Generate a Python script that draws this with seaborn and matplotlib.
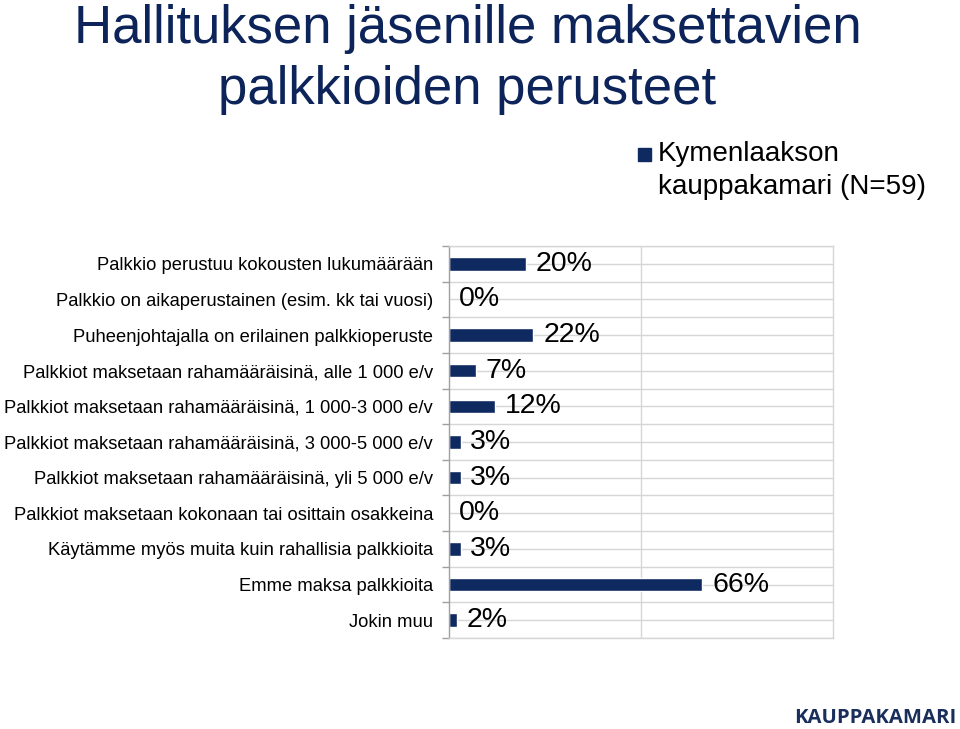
import matplotlib
matplotlib.use("Agg")
import matplotlib.pyplot as plt
import seaborn as sns
import pandas as pd
from matplotlib.patches import Patch, Rectangle
from matplotlib.legend_handler import HandlerPatch

categories = [
    "Palkkio perustuu kokousten lukumäärään",
    "Palkkio on aikaperustainen (esim. kk tai vuosi)",
    "Puheenjohtajalla on erilainen palkkioperuste",
    "Palkkiot maksetaan rahamääräisinä, alle 1 000 e/v",
    "Palkkiot maksetaan rahamääräisinä, 1 000-3 000 e/v",
    "Palkkiot maksetaan rahamääräisinä, 3 000-5 000 e/v",
    "Palkkiot maksetaan rahamääräisinä, yli 5 000 e/v",
    "Palkkiot maksetaan kokonaan tai osittain osakkeina",
    "Käytämme myös muita kuin rahallisia palkkioita",
    "Emme maksa palkkioita",
    "Jokin muu",
]
values = [0.20, 0.00, 0.22, 0.07, 0.12, 0.03, 0.03, 0.00, 0.03, 0.66, 0.02]
labels = ["20%", "0%", "22%", "7%", "12%", "3%", "3%", "0%", "3%", "66%", "2%"]
series_name = "Kymenlaakson\nkauppakamari (N=59)"
title = "Hallituksen jäsenille maksettavien\npalkkioiden perusteet"

NAVY = "#0F2A61"
GRID = "#D6D6D6"

sns.set_theme(style="white")
plt.rcParams["font.family"] = ["Liberation Sans", "DejaVu Sans"]

df = pd.DataFrame({"category": categories, "value": values})

fig = plt.figure(figsize=(9.6, 7.29), dpi=100)
ax = fig.add_axes([0.4677, 0.1248, 0.4000, 0.5378])

sns.barplot(data=df, y="category", x="value", orient="h", color=NAVY,
            width=0.38, saturation=1, ax=ax)

ax.set_xlim(0, 1)
ax.set_xlabel("")
ax.set_ylabel("")
ax.set_xticks([0.5])
ax.set_xticklabels([])
ax.tick_params(axis="x", length=0)
ax.xaxis.grid(True, color=GRID, linewidth=1)

n = len(categories)
ax.set_yticks(range(n))
ax.set_yticklabels(categories, fontsize=13.2, color="black")
ax.set_yticks([i - 0.5 for i in range(n + 1)], minor=True)
ax.tick_params(axis="y", which="major", length=0, pad=11.5)
ax.tick_params(axis="y", which="minor", length=5, color="#A0A0A0", width=1, left=True)
ax.yaxis.grid(True, which="both", color=GRID, linewidth=1)
ax.set_axisbelow(True)

for side in ["top", "right", "bottom"]:
    ax.spines[side].set_color(GRID)
    ax.spines[side].set_linewidth(1)
ax.spines["left"].set_color("#A0A0A0")
ax.spines["left"].set_linewidth(1)

ax.bar_label(ax.containers[0], labels=labels, padding=7, fontsize=20.5,
             color="black")


def square_first_line(legend, orig_handle, xdescent, ydescent, width, height, fontsize):
    side = 9.4
    return Rectangle((-xdescent + width - side, -ydescent + (height - side) / 2 + 11.9),
                     side, side)


handle = Patch(facecolor=NAVY, edgecolor=NAVY)
leg = fig.legend([handle], [series_name], loc="upper left",
                 bbox_to_anchor=(0.6635, 0.8065), frameon=False, fontsize=20,
                 handletextpad=0.25, handlelength=0.5, borderaxespad=0, borderpad=0,
                 handler_map={Patch: HandlerPatch(patch_func=square_first_line)})
for t in leg.get_texts():
    t.set_linespacing(1.35)
    t.set_color("black")

fig.text(0.487, 0.994, title, ha="center", va="top", fontsize=38,
         color="#0C2459", linespacing=1.28)

fig.text(0.996, 0.008, "KAUPPAKAMARI", ha="right", va="baseline",
         fontsize=14.6, fontweight="bold", color="#1A2E5C",
         family=["Open Sans", "DejaVu Sans"])

fig.savefig("out.png", dpi=100)
